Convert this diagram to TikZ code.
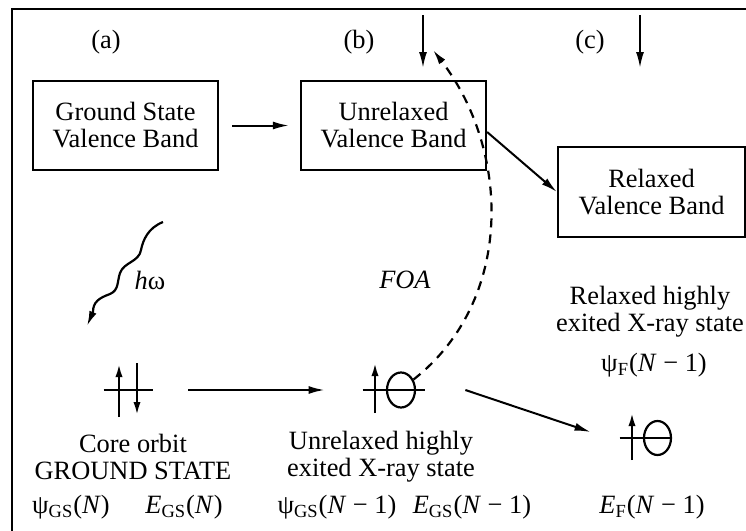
\documentclass[tikz,border=0pt]{standalone}
\usepackage{fontspec}
\setmainfont{Liberation Serif}
\usetikzlibrary{arrows.meta}
\usetikzlibrary{shapes.geometric}
\tikzset{band/.style = {draw, line width=1.1pt, align=center,
                        minimum width=92.5pt, minimum height=44.5pt, inner sep=0pt}}
\tikzset{flow/.style = {-{Latex[length=8pt, width=4pt]}, line width=1pt}}
\tikzset{spin/.style = {-{Latex[length=6.5pt, width=3.6pt]}, line width=1.1pt}}
\tikzset{core/.style = {inner sep=0pt, minimum height=27pt}}
\tikzset{hole/.style = {draw, ellipse, line width=1.1pt, inner sep=0pt,
                        minimum width=13.5pt, minimum height=17pt}}
\newcommand{\sub}[1]{\textsubscript{#1}}

\begin{document}
\begin{tikzpicture}[x=0.5pt, y=-0.5pt, font=\fontsize{13.2}{13.5}\selectfont]
  \useasboundingbox (0, 0) rectangle (746, 531);
  \draw [line width=1.3pt] (12, 531) -- (12, 9) -- (746, 9);

  \node (a) at (106, 42) {(a)};
  \node (b) at (359, 42) {(b)};
  \node (c) at (590, 42) {(c)};

  % valence bands
  \node [band] (gsvb) at (125.5, 125.5) {Ground State\\Valence Band};
  \node [band] (unvb) at (393.5, 125.5) {Unrelaxed\\Valence Band};
  \node [band, minimum width=93.5pt, minimum height=45pt] (revb) at (651.5, 192) {Relaxed\\Valence Band};

  \draw [flow, shorten <=6.5pt, shorten >=5.5pt] (gsvb) -- (unvb);
  \draw [flow] ([yshift=-3.25pt]unvb.east) -- (revb.west);

  \coordinate (bin) at (423, 15);
  \coordinate (bout) at (423, 68);
  \coordinate (cin) at (640, 15);
  \coordinate (cout) at (640, 68);
  \draw [flow] (bin) -- (bout);
  \draw [flow] (cin) -- (cout);

  % photon
  \coordinate (hwin) at (163, 222);
  \coordinate (hwout) at (87, 326);
  \draw [-{Latex[length=7.5pt, width=3.8pt]}, line width=1.1pt]
    (hwin) .. controls (148, 228) and (143, 240) .. (141, 250)
           .. controls (139, 262) and (124, 262) .. (120, 273)
           .. controls (117, 282) and (119, 290) .. (110, 294)
           .. controls (99, 298) and (93, 302) .. (93, 312)
           -- (hwout);
  \node (hw) at (150, 280) {\textit{h}ω};
  \node (foa) at (405, 280) {\textit{FOA}};

  % core levels
  \node [core, minimum width=24.5pt] (gscore) at (128.5, 390) {};
  \draw [line width=1.1pt] (gscore.west) -- (gscore.east);
  \draw [spin] (119, 417) -- (119, 364);
  \draw [spin] (137, 363) -- (137, 415);

  \node [core, minimum width=31pt] (uncore) at (394, 390) {};
  \draw [line width=1.1pt] (uncore.west) -- (uncore.east);
  \draw [spin] (375, 413) -- (375, 363);
  \node [hole, minimum width=14pt, minimum height=17.5pt] (unhole) at (401, 390) {};

  \node [core, minimum width=26pt] (recore) at (646, 438) {};
  \draw [line width=1.1pt] (recore.west) -- (recore.east);
  \draw [spin] (632, 460) -- (632, 413);
  \node [hole] (rehole) at (657.5, 438) {};

  \draw [flow, shorten <=17.5pt, shorten >=19pt] (gscore.east) -- (uncore.west);
  \draw [flow] ([xshift=20pt]uncore.east) -- ([xshift=-14.5pt, yshift=3pt]recore.west);

  \coordinate (foatip) at (433, 50);
  \draw [-{Latex[length=7.5pt, width=3.8pt]}, line width=1.1pt, dash pattern=on 4.5pt off 3.5pt]
    (unhole.40) .. controls (515, 300) and (510, 150) .. (foatip);

  % labels
  \node [align=center] (gsname) at (133, 456.5) {Core orbit\\GROUND STATE};
  \node (gspsi) at (71, 507) {ψ\sub{GS}(\textit{N})};
  \node (gsen) at (184, 507) {\textit{E}\sub{GS}(\textit{N})};

  \node [align=center] (unname) at (381, 456.5) {Unrelaxed highly\\exited X-ray state};
  \node (unpsi) at (337, 507) {ψ\sub{GS}(\textit{N} − 1)};
  \node (unen) at (472, 507) {\textit{E}\sub{GS}(\textit{N} − 1)};

  \node [align=center] (rename) at (650, 311.5) {Relaxed highly\\exited X-ray state};
  \node (repsi) at (654, 365) {ψ\sub{F}(\textit{N} − 1)};
  \node (reen) at (652, 507) {\textit{E}\sub{F}(\textit{N} − 1)};
\end{tikzpicture}
\end{document}
